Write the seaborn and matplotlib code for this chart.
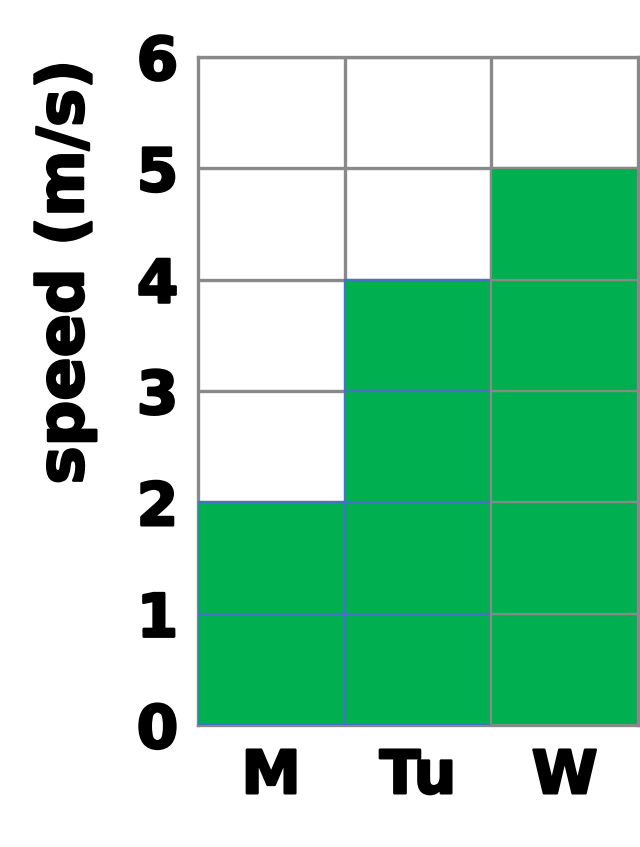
import matplotlib
matplotlib.use("Agg")
import matplotlib.pyplot as plt
import matplotlib.patheffects as pe
import seaborn as sns

# data
days = ["M", "Tu", "W"]
speeds = [2, 4, 5]
y_ticks = [0, 1, 2, 3, 4, 5, 6]

green = "#00B050"
grid_gray = "#898989"
edge_colors = ["#4472C4", "#4472C4", grid_gray]

sns.set_theme(style="white")
plt.rcParams['font.family'] = ['DejaVu Sans']

fig = plt.figure(figsize=(6.4, 8.47), dpi=100)
ax = fig.add_axes([0.309, 0.144, 0.688, 0.789])

# one square cell per unit of speed
for i, (day, v) in enumerate(zip(days, speeds)):
    for k in range(v):
        ax.bar(i, 1, bottom=k, width=1, color=green,
               edgecolor=edge_colors[i], linewidth=1.6, zorder=3)

ax.set_xlim(-0.5, len(days) - 0.5)
ax.set_ylim(0, 6)
ax.set_xticks(range(len(days)))
ax.set_xticklabels(days)
ax.set_xticks([i + 0.5 for i in range(len(days) - 1)], minor=True)
ax.set_yticks(y_ticks)

ax.grid(axis="y", which="major", color=grid_gray, linewidth=2.4)
ax.grid(axis="x", which="minor", color=grid_gray, linewidth=2.4)
ax.grid(axis="x", which="major", visible=False)
ax.set_axisbelow(True)
for s in ax.spines.values():
    s.set_color(grid_gray)
    s.set_linewidth(2.4)
    s.set_zorder(1)

thick = [pe.withStroke(linewidth=1.8, foreground="black")]
ax.tick_params(axis="both", which="both", length=0, labelsize=43)
ax.tick_params(axis="y", pad=14)
ax.tick_params(axis="x", pad=16)
for lbl in ax.get_xticklabels() + ax.get_yticklabels():
    lbl.set_fontweight("bold")
    lbl.set_color("black")
    lbl.set_path_effects(thick)

fig.text(65 / 640, 1 - 272 / 847, "speed (m/s)", rotation=90, ha="center", va="center",
         fontsize=46, fontweight="bold", color="black", path_effects=thick)

plt.savefig("out.png", dpi=100)
plt.close()
